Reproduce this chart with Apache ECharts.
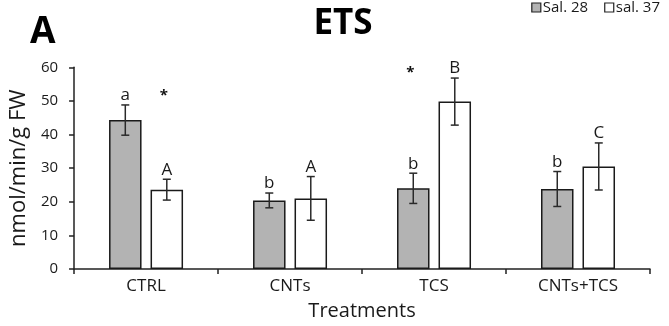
<!DOCTYPE html>
<html>
<head>
<meta charset="utf-8">
<script src="https://cdn.jsdelivr.net/npm/echarts@6/dist/echarts.min.js"></script>
<style>
  html, body { margin: 0; padding: 0; background: #fff; }
  #chart { width: 669px; height: 326px; }
</style>
</head>
<body>
<div id="chart"></div>
<script>
// ETS activity by treatment at two salinities (mean ± SD)
const categories = ['CTRL', 'CNTs', 'TCS', 'CNTs+TCS'];
const seriesNames = ['Sal. 28', 'sal. 37'];
const sal28 = [44.3, 20.4, 24.0, 23.8];
const sal28Err = [4.5, 2.2, 4.5, 5.2];
const sal37 = [23.6, 21.0, 49.8, 30.5];
const sal37Err = [3.1, 6.5, 7.0, 7.0];
const sal28Letters = ['a', 'b', 'b', 'b'];
const sal37Letters = ['A', 'A', 'B', 'C'];
// significance marks between salinities: [category, height, series index]
const starCats = ['CTRL', 'TCS'];
const starValues = [52.7, 59.7];
const starSeries = [1, 0];
const yTicks = [0, 10, 20, 30, 40, 50, 60];

const FONT = "'Open Sans', 'Liberation Sans', Arial, sans-serif";
const BAR_W = 32.5;
const BAR_GAP = 9;
const HALF = (BAR_W + BAR_GAP) / 2;

const errData = [];
categories.forEach((c, i) => {
  errData.push([i, sal28[i], sal28Err[i], 0, sal28Letters[i]]);
  errData.push([i, sal37[i], sal37Err[i], 1, sal37Letters[i]]);
});
const starData = starCats.map((c, k) => [categories.indexOf(c), starValues[k], starSeries[k]]);

const chart = echarts.init(document.getElementById('chart'), null, { renderer: 'canvas' });

chart.setOption({
  animation: false,
  backgroundColor: '#fff',
  textStyle: { fontFamily: FONT },
  title: [
    { text: 'ETS', left: 338, top: 2, textAlign: 'center',
      textStyle: { fontSize: 35, fontWeight: 'bold', color: '#000', fontFamily: FONT } },
    { text: 'A', left: 25, top: 9,
      textStyle: { fontSize: 37, fontWeight: 'bold', color: '#000', fontFamily: FONT } }
  ],
  legend: {
    data: seriesNames,
    right: 9, top: 0, padding: 0,
    itemWidth: 9, itemHeight: 9, itemGap: 16,
    icon: 'rect',
    itemStyle: { borderColor: '#222', borderWidth: 1.2 },
    textStyle: { fontSize: 15, color: '#1a1a1a', fontFamily: FONT, padding: [0, 0, 0, -3] }
  },
  grid: { left: 66.5, right: 19, top: 67.3, bottom: 57 },
  xAxis: {
    type: 'category',
    data: categories,
    name: 'Treatments',
    nameLocation: 'middle',
    nameGap: 32,
    nameTextStyle: { fontSize: 20, color: '#1a1a1a', fontFamily: FONT },
    axisLine: { lineStyle: { color: '#222', width: 1.5 } },
    axisTick: { show: true, length: 5, lineStyle: { color: '#222', width: 1.5 } },
    axisLabel: { fontSize: 17, color: '#1a1a1a', margin: 9, fontFamily: FONT }
  },
  yAxis: {
    type: 'value',
    min: yTicks[0], max: yTicks[yTicks.length - 1], interval: 10,
    name: 'nmol/min/g FW',
    nameLocation: 'middle',
    nameGap: 39,
    nameTextStyle: { fontSize: 22, color: '#1a1a1a', fontFamily: FONT },
    axisLine: { show: true, lineStyle: { color: '#222', width: 1.5 } },
    axisTick: { show: true, length: 5, lineStyle: { color: '#222', width: 1.5 } },
    axisLabel: { fontSize: 15, color: '#1a1a1a', margin: 16, fontFamily: FONT },
    splitLine: { show: false }
  },
  series: [
    {
      name: seriesNames[0], type: 'bar', data: sal28,
      barWidth: BAR_W, barGap: (BAR_GAP / BAR_W * 100).toFixed(1) + '%',
      itemStyle: { color: '#b3b3b3', borderColor: '#1a1a1a', borderWidth: 1.5 }
    },
    {
      name: seriesNames[1], type: 'bar', data: sal37,
      barWidth: BAR_W,
      itemStyle: { color: '#ffffff', borderColor: '#1a1a1a', borderWidth: 1.5 }
    },
    {
      // error bars with the group letters above them
      type: 'custom',
      data: errData,
      z: 5,
      renderItem: function (params, api) {
        const i = api.value(0), v = api.value(1), e = api.value(2), s = api.value(3);
        const letter = errData[params.dataIndex][4];
        const dx = s === 0 ? -HALF : HALF;
        const top = api.coord([i, v + e]);
        const bot = api.coord([i, v - e]);
        const x = top[0] + dx;
        const cap = 4;
        const ls = { stroke: '#2a2a2a', lineWidth: 1.5 };
        return {
          type: 'group',
          children: [
            { type: 'line', shape: { x1: x, y1: top[1], x2: x, y2: bot[1] }, style: ls },
            { type: 'line', shape: { x1: x - cap, y1: top[1], x2: x + cap, y2: top[1] }, style: ls },
            { type: 'line', shape: { x1: x - cap, y1: bot[1], x2: x + cap, y2: bot[1] }, style: ls },
            { type: 'text', x: x, y: top[1] - 1,
              style: { text: letter, fill: '#1a1a1a', font: '17px ' + FONT,
                       textAlign: 'center', textVerticalAlign: 'bottom' } }
          ]
        };
      }
    },
    {
      // asterisks marking salinity differences
      type: 'custom',
      data: starData,
      z: 5,
      renderItem: function (params, api) {
        const i = api.value(0), v = api.value(1), s = api.value(2);
        const p = api.coord([i, v]);
        const x = p[0] + (s === 0 ? -HALF : HALF) - 3;
        return {
          type: 'text', x: x, y: p[1] + 4,
          style: { text: '*', fill: '#111', font: 'bold 15px ' + FONT,
                   textAlign: 'center', textVerticalAlign: 'middle' }
        };
      }
    }
  ]
});
</script>
</body>
</html>
